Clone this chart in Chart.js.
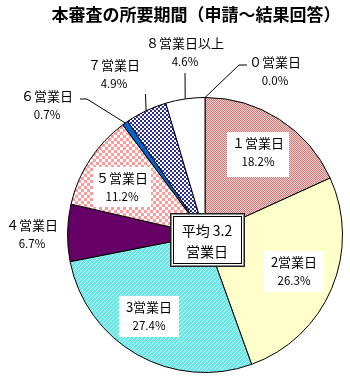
<!DOCTYPE html>
<html>
<head>
<meta charset="utf-8">
<script src="https://cdn.jsdelivr.net/npm/chart.js@4/dist/chart.umd.min.js"></script>
<style>
  html, body { margin: 0; padding: 0; background: #fff; }
  #wrap { width: 350px; height: 382px; position: relative; }
</style>
</head>
<body>
<div id="wrap"><canvas id="chart"></canvas></div>
<script>
// 本審査の所要期間 data
const categories = ['０営業日', '１営業日', '2営業日', '3営業日', '４営業日', '５営業日', '６営業日', '７営業日', '８営業日以上'];
const shares = [0.0, 18.2, 26.3, 27.4, 6.7, 11.2, 0.7, 4.9, 4.6];
const titleText = '本審査の所要期間（申請～結果回答）';
const averageLines = ['平均 3.2', '営業日'];

const FONT = "'Noto Sans CJK JP', 'Noto Sans', sans-serif";

// small canvas patterns for the hatched slices
function makePattern(size, draw) {
    const c = document.createElement('canvas');
    c.width = size;
    c.height = size;
    const g = c.getContext('2d');
    draw(g);
    return g.createPattern(c, 'repeat');
}

const pinkDots = makePattern(2, g => {
    g.fillStyle = '#f0c4c4'; g.fillRect(0, 0, 2, 2);
    g.fillStyle = '#c98484'; g.fillRect(0, 0, 1, 1); g.fillRect(1, 1, 1, 1);
});
const cyanStripes = makePattern(4, g => {
    g.fillStyle = '#6ee6e6'; g.fillRect(0, 0, 4, 4);
    g.fillStyle = '#b4f4f4';
    for (let i = 0; i < 4; i++) g.fillRect(i, 3 - i, 1, 1);
});
const pinkGingham = makePattern(6, g => {
    g.fillStyle = '#ffffff'; g.fillRect(0, 0, 6, 6);
    g.fillStyle = '#ff9c9c'; g.fillRect(0, 0, 3, 3); g.fillRect(3, 3, 3, 3);
});
const navyChecks = makePattern(4, g => {
    g.fillStyle = '#ffffff'; g.fillRect(0, 0, 4, 4);
    g.fillStyle = '#2c2c9c'; g.fillRect(0, 0, 2, 2); g.fillRect(2, 2, 2, 2);
});

const sliceColors = ['#ffffff', pinkDots, '#ffffcc', cyanStripes, '#660066', pinkGingham, '#0066cc', navyChecks, '#ffffff'];

// label layout, offsets from pie centre; box = white box behind the text
const labelLayout = [
    { dx: 70, dy: -173, box: null, leader: [[34, -170], [42, -170]] },
    { dx: 53, dy: -92, box: [62, 45] },
    { dx: 89, dy: 27, box: [60, 41] },
    { dx: -56, dy: 72, box: [60, 41] },
    { dx: -173, dy: -10, box: null },
    { dx: -83, dy: -57, box: [58, 40] },
    { dx: -158, dy: -139, box: null, leader: [[-118, -136], [-125, -136]] },
    { dx: -91, dy: -170, box: null, leader: [[-59.5, -141]] },
    { dx: -20, dy: -192, box: null, leader: [[-20, -162]] }
];

const labelPlugin = {
    id: 'pieLabels',
    afterDatasetsDraw(chart) {
        const ctx = chart.ctx;
        const meta = chart.getDatasetMeta(0);
        const first = meta.data[0];
        const cx = first.x, cy = first.y;
        ctx.save();

        // title
        ctx.fillStyle = '#000';
        ctx.font = 'bold 17px ' + FONT;
        ctx.textAlign = 'center';
        ctx.textBaseline = 'middle';
        ctx.fillText(titleText, 196, 15);

        meta.data.forEach((arc, i) => {
            const p = arc.getProps(['startAngle', 'endAngle', 'outerRadius'], true);
            const mid = (p.startAngle + p.endAngle) / 2;
            const ex = cx + Math.cos(mid) * p.outerRadius;
            const ey = cy + Math.sin(mid) * p.outerRadius;
            const lay = labelLayout[i];
            const lx = cx + lay.dx, ly = cy + lay.dy;

            if (lay.leader) {
                ctx.strokeStyle = '#000';
                ctx.lineWidth = 1;
                ctx.beginPath();
                ctx.moveTo(ex, ey);
                lay.leader.forEach(pt => ctx.lineTo(cx + pt[0], cy + pt[1]));
                ctx.stroke();
            }

            if (lay.box) {
                ctx.fillStyle = '#fff';
                ctx.fillRect(lx - lay.box[0] / 2, ly - 11, lay.box[0], lay.box[1]);
            }

            ctx.fillStyle = '#000';
            ctx.textAlign = 'center';
            ctx.textBaseline = 'middle';
            ctx.font = '13px ' + FONT;
            ctx.fillText(categories[i], lx, ly);
            ctx.font = '11.5px ' + FONT;
            ctx.fillText(shares[i].toFixed(1) + '%', lx, ly + 19);
        });

        // average box in the centre
        const bx = cx - 35, by = cy - 22, bw = 75, bh = 54;
        ctx.fillStyle = '#fff';
        ctx.fillRect(bx, by, bw, bh);
        ctx.strokeStyle = '#222';
        ctx.lineWidth = 1;
        ctx.strokeRect(bx + 0.5, by + 0.5, bw - 1, bh - 1);
        ctx.strokeStyle = '#888';
        ctx.strokeRect(bx + 1.5, by + 1.5, bw - 3, bh - 3);
        ctx.strokeStyle = '#000';
        ctx.strokeRect(bx + 3.5, by + 3.5, bw - 7, bh - 7);
        ctx.fillStyle = '#000';
        ctx.font = '14px ' + FONT;
        ctx.fillText(averageLines[0], cx + 2, cy - 4);
        ctx.fillText(averageLines[1], cx + 2, cy + 17);
        ctx.restore();
    }
};

new Chart(document.getElementById('chart'), {
    type: 'pie',
    data: {
        labels: categories,
        datasets: [{
            data: shares,
            backgroundColor: sliceColors,
            borderColor: '#000',
            borderWidth: 1,
            borderAlign: 'center'
        }]
    },
    options: {
        responsive: true,
        maintainAspectRatio: false,
        animation: false,
        layout: { padding: { left: 67, right: 7, top: 97, bottom: 9 } },
        plugins: {
            legend: { display: false },
            title: { display: false },
            tooltip: { enabled: false }
        }
    },
    plugins: [labelPlugin]
});
</script>
</body>
</html>
